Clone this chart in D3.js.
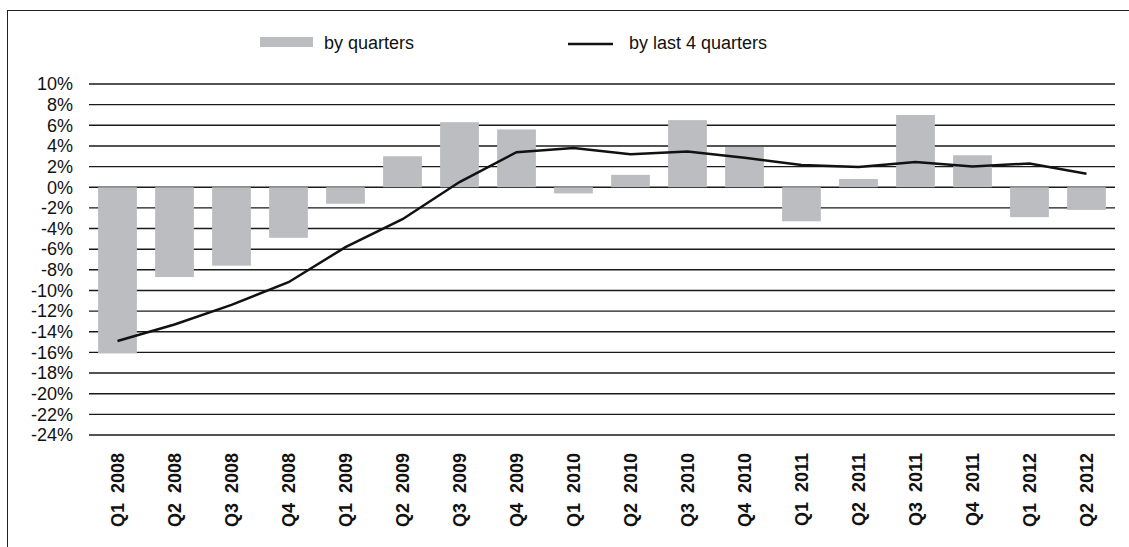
<!DOCTYPE html>
<html>
<head>
<meta charset="utf-8">
<script src="https://cdn.jsdelivr.net/npm/d3@7"></script>
<style>
  body { margin: 0; background: #fff; }
  svg { display: block; font-family: "Liberation Sans", Arial, Helvetica, sans-serif; }
</style>
</head>
<body>
<div id="chart"></div>
<script>
// quarters on the x axis
const quarters = ["Q1 2008","Q2 2008","Q3 2008","Q4 2008","Q1 2009","Q2 2009","Q3 2009","Q4 2009",
                  "Q1 2010","Q2 2010","Q3 2010","Q4 2010","Q1 2011","Q2 2011","Q3 2011","Q4 2011",
                  "Q1 2012","Q2 2012"];
// change by quarter (%)
const byQuarter = [-16.1,-8.7,-7.6,-4.9,-1.6,3.0,6.3,5.6,-0.6,1.2,6.5,3.9,-3.3,0.8,7.0,3.1,-2.9,-2.2];
// change by last 4 quarters (%)
const byLast4 = [-14.9,-13.3,-11.4,-9.2,-5.8,-3.1,0.5,3.4,3.8,3.2,3.45,2.85,2.15,1.95,2.45,2.0,2.3,1.3];
// y ticks
const yTicks = d3.range(-24, 11, 2);

const width = 1129, height = 547;
const margin = {top: 84, right: 14, bottom: 112, left: 89};

const svg = d3.select("#chart").append("svg")
  .attr("width", width)
  .attr("height", height);

// outer frame (only top and left visible)
svg.append("rect")
  .attr("x", 7.5).attr("y", 10.5)
  .attr("width", width + 20).attr("height", height + 20)
  .attr("fill", "none")
  .attr("stroke", "#222")
  .attr("stroke-width", 1);

const x = d3.scaleBand()
  .domain(quarters)
  .range([margin.left, width - margin.right])
  .paddingInner(0.32)
  .paddingOuter(0.16);

const y = d3.scaleLinear()
  .domain([-24, 10])
  .range([height - margin.bottom, margin.top]);

// gridlines
svg.append("g")
  .selectAll("line")
  .data(yTicks)
  .enter().append("line")
    .attr("x1", margin.left)
    .attr("x2", width - margin.right)
    .attr("y1", d => y(d))
    .attr("y2", d => y(d))
    .attr("stroke", "#1a1a1a")
    .attr("stroke-width", 1.4);

// y labels
svg.append("g")
  .selectAll("text")
  .data(yTicks)
  .enter().append("text")
    .attr("x", 73)
    .attr("y", d => y(d))
    .attr("dy", "0.35em")
    .attr("text-anchor", "end")
    .style("font-size", "18px")
    .attr("fill", "#111")
    .text(d => d + "%");

// bars
svg.append("g")
  .selectAll("rect")
  .data(byQuarter)
  .enter().append("rect")
    .attr("x", (d, i) => x(quarters[i]))
    .attr("width", x.bandwidth())
    .attr("y", d => y(Math.max(0, d)))
    .attr("height", d => Math.abs(y(d) - y(0)))
    .attr("fill", "#bcbdc1");

// line
const line = d3.line()
  .x((d, i) => x(quarters[i]) + x.bandwidth() / 2)
  .y(d => y(d));

svg.append("path")
  .datum(byLast4)
  .attr("d", line)
  .attr("fill", "none")
  .attr("stroke", "#111")
  .attr("stroke-width", 2.5);

// x labels, rotated
svg.append("g")
  .selectAll("text")
  .data(quarters)
  .enter().append("text")
    .attr("transform", d => "translate(" + (x(d) + x.bandwidth() / 2) + "," + (y(-24) + 18) + ") rotate(-90)")
    .attr("dy", "0.35em")
    .attr("text-anchor", "end")
    .style("font-size", "18px")
    .style("font-weight", "bold")
    .attr("fill", "#111")
    .text(d => d.replace(" ", "  "))
    .attr("xml:space", "preserve");

// legend
const legend = svg.append("g").attr("class", "legend");
legend.append("rect")
  .attr("x", 260).attr("y", 37)
  .attr("width", 53).attr("height", 10)
  .attr("fill", "#bcbdc1");
legend.append("text")
  .attr("x", 324).attr("y", 49)
  .style("font-size", "18px")
  .attr("fill", "#111")
  .text("by quarters");
legend.append("line")
  .attr("x1", 568).attr("x2", 613)
  .attr("y1", 44).attr("y2", 44)
  .attr("stroke", "#111")
  .attr("stroke-width", 2.5);
legend.append("text")
  .attr("x", 629).attr("y", 49)
  .style("font-size", "18px")
  .attr("fill", "#111")
  .text("by last 4 quarters");
</script>
</body>
</html>
